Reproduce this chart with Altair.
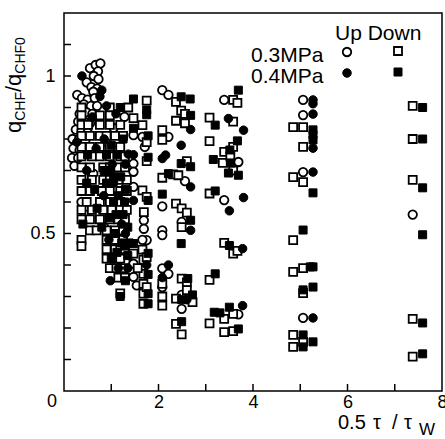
import altair as alt
import pandas as pd

FONT = "Liberation Sans"

# ---- Up, 0.3 MPa (open circles) ----
up03_x = [0.55, 0.67, 0.77, 0.72, 0.63, 0.73, 0.48, 0.58, 0.70, 0.62, 0.28, 0.38, 0.50, 0.65,
          0.42, 0.57, 0.70, 0.33, 0.47, 0.60, 0.73, 0.30, 0.43, 0.55, 0.25, 0.37, 0.50, 0.18,
          0.32, 0.45, 0.20, 0.33, 0.17, 0.30, 0.22, 0.37, 0.45, 0.90, 1.05, 1.28, 0.62, 0.85,
          1.30, 1.15,
          1.47, 1.66, 1.71, 1.47, 1.47, 1.47, 1.69, 1.69, 1.75, 1.47, 1.47, 1.54, 1.66,
          2.08, 2.21, 2.21, 2.56, 2.08, 2.49, 2.08, 2.08, 2.08, 2.21, 2.08, 2.49, 2.49,
          3.39, 3.69, 3.39, 3.69,
          5.06, 5.06, 5.06, 5.06,
          7.38]
up03_y = [1.025, 1.035, 1.04, 1.015, 1.00, 0.99, 0.98, 0.965, 0.96, 0.95, 0.94, 0.93, 0.925, 0.93,
          0.91, 0.905, 0.905, 0.88, 0.885, 0.88, 0.875, 0.855, 0.855, 0.85, 0.83, 0.825, 0.82, 0.80,
          0.80, 0.795, 0.77, 0.765, 0.74, 0.74, 0.715, 0.60, 0.56, 0.79, 0.835, 0.87, 0.69, 0.52,
          0.41, 0.46,
          0.812, 0.807, 0.775, 0.722, 0.696, 0.648, 0.542, 0.515, 0.479, 0.404, 0.362, 0.335, 0.48,
          0.955, 0.94, 0.807, 0.666, 0.586, 0.537, 0.51, 0.495, 0.389, 0.372, 0.33, 0.305, 0.261,
          0.924, 0.727, 0.606, 0.243,
          0.924, 0.876, 0.695, 0.232,
          0.56]

# ---- Up, 0.4 MPa (filled circles) ----
up04_x = [0.38, 0.80, 0.76, 0.90, 0.60, 0.27, 1.02, 1.30, 1.05, 0.84, 1.22, 1.30, 0.98, 1.35,
          0.85, 0.48, 0.68, 1.10, 0.95, 1.15,
          1.36, 1.47, 1.47, 1.75,
          2.68, 2.48, 2.08, 2.15, 2.68, 2.68, 2.21, 2.08, 2.60,
          3.48, 3.80, 3.50, 3.80, 3.78, 3.78,
          5.27, 5.27, 5.27, 5.27, 5.27, 5.27]
up04_y = [1.00, 0.955, 0.935, 0.905, 0.87, 0.79, 0.72, 0.72, 0.66, 0.62, 0.53, 0.50, 0.35, 0.39,
          0.80, 0.70, 0.77, 0.88, 0.48, 0.39,
          0.752, 0.75, 0.605, 0.40,
          0.83, 0.78, 0.738, 0.749, 0.648, 0.51, 0.40, 0.36, 0.29,
          0.865, 0.828, 0.572, 0.614, 0.452, 0.271,
          0.924, 0.912, 0.879, 0.771, 0.695, 0.232]

# ---- Down, 0.3 MPa (open squares) ----
dn03_x = [0.37, 0.97, 1.36,
          0.37, 0.76, 0.97,
          0.37, 0.51, 0.76, 0.97, 1.19,
          0.37, 0.55, 0.76, 0.90, 1.08, 1.25,
          0.37, 0.55, 0.76, 0.97, 1.19,
          0.37, 0.59, 0.76, 0.97, 1.19, 1.29,
          0.37, 0.55, 0.83, 0.97, 1.15, 1.29,
          0.37, 0.59, 0.83, 0.97, 1.15, 1.33,
          0.37, 0.55, 0.80, 0.97, 1.19, 1.33,
          0.48, 0.76, 0.97, 1.19,
          0.37, 0.59, 0.83, 1.01, 1.19, 1.33,
          0.37, 0.55, 0.76, 0.97, 1.15, 1.29,
          0.55, 0.69, 0.90, 1.08, 1.25,
          0.37, 0.90, 1.08, 1.25,
          0.37,
          0.90, 1.08, 1.19, 1.29,
          0.90, 1.08, 1.19,
          0.97, 1.11, 1.25,
          1.15, 1.29,
          1.19,
          1.75, 1.47, 1.66, 1.75, 1.75, 1.66, 1.75, 1.69, 1.47, 1.66, 1.68, 1.75, 1.68, 1.68,
          1.68, 1.68, 1.75, 1.56,
          2.37, 2.48, 2.56, 2.37, 2.56, 2.08, 2.08, 2.60, 2.08, 2.31, 2.42, 2.37, 2.49, 2.60,
          2.49, 2.08, 2.08, 2.08, 2.49, 2.60, 2.37, 2.72, 2.37, 2.49, 2.60,
          3.58, 3.67, 3.08, 3.58, 3.08, 3.39, 3.58, 3.36, 3.52, 3.58, 3.08, 3.39, 3.58, 3.67,
          3.08, 3.08, 3.39, 3.58, 3.39, 3.58,
          4.85, 5.06, 5.06, 4.85, 5.06, 4.85, 4.85, 5.06, 5.06, 4.85, 5.06, 4.85,
          7.38, 7.38, 7.38, 7.38, 7.38]
dn03_y = [0.90, 0.90, 0.90,
          0.875, 0.875, 0.875,
          0.845, 0.845, 0.845, 0.845, 0.845,
          0.81, 0.81, 0.81, 0.81, 0.81, 0.81,
          0.775, 0.775, 0.775, 0.775, 0.775,
          0.745, 0.745, 0.745, 0.745, 0.745, 0.745,
          0.71, 0.71, 0.71, 0.71, 0.71, 0.71,
          0.67, 0.67, 0.67, 0.67, 0.67, 0.67,
          0.635, 0.635, 0.635, 0.635, 0.635, 0.635,
          0.60, 0.60, 0.60, 0.60,
          0.575, 0.575, 0.575, 0.575, 0.575, 0.575,
          0.545, 0.545, 0.545, 0.545, 0.545, 0.545,
          0.51, 0.51, 0.51, 0.51, 0.51,
          0.48, 0.48, 0.48, 0.48,
          0.46,
          0.45, 0.45, 0.45, 0.45,
          0.42, 0.42, 0.42,
          0.39, 0.39, 0.39,
          0.36, 0.36,
          0.31,
          0.922, 0.866, 0.844, 0.79, 0.73, 0.637, 0.616, 0.568, 0.436, 0.449, 0.417, 0.425, 0.372, 0.34,
          0.309, 0.277, 0.33, 0.39,
          0.918, 0.89, 0.88, 0.858, 0.85, 0.828, 0.797, 0.73, 0.677, 0.688, 0.685, 0.595, 0.58, 0.566,
          0.52, 0.34, 0.30, 0.271, 0.357, 0.345, 0.293, 0.282, 0.213, 0.18, 0.32,
          0.924, 0.915, 0.868, 0.855, 0.793, 0.759, 0.775, 0.724, 0.745, 0.70, 0.627, 0.47, 0.436, 0.445,
          0.353, 0.215, 0.229, 0.245, 0.187, 0.19,
          0.838, 0.838, 0.775, 0.679, 0.663, 0.479, 0.378, 0.39, 0.311, 0.178, 0.156, 0.140,
          0.905, 0.80, 0.67, 0.229, 0.109]

# ---- Down, 0.4 MPa (filled squares) ----
dn04_x = [1.19, 0.98, 0.90, 1.15, 1.25, 0.80, 1.08, 0.40, 1.30, 1.35, 1.19, 0.90, 1.12, 1.25,
          0.70, 1.30, 1.05, 1.00,
          1.05, 1.20, 1.28, 1.10, 0.95, 1.22, 1.12, 1.35, 0.85, 1.00, 0.65, 0.48, 0.50, 1.30, 1.38,
          1.47, 1.75, 1.75, 1.47, 1.78, 1.78, 1.78, 1.47, 1.78, 1.78, 1.78, 1.78,
          2.48, 2.67, 2.68, 2.48, 2.68, 2.21, 2.08, 2.68, 2.48, 2.62, 2.49, 2.72, 2.49,
          3.69, 3.20, 3.67, 3.51, 3.16, 3.53, 3.48, 3.69, 3.20, 3.50, 3.20, 3.18, 3.30, 3.50, 3.69,
          5.27, 5.27, 5.27, 5.27, 5.06, 5.21, 5.27, 5.06, 5.27, 5.06, 5.27, 5.06,
          7.59, 7.59, 7.59, 7.59, 7.59, 7.59]
dn04_y = [0.90, 0.70, 0.66, 0.62, 0.56, 0.52, 0.50, 0.53, 0.46, 0.43, 0.30, 0.75, 0.75, 0.80,
          0.58, 0.64, 0.60, 0.42,
          0.68, 0.68, 0.60, 0.56, 0.55, 0.47, 0.44, 0.52, 0.70, 0.78, 0.64, 0.66, 0.75, 0.35, 0.47,
          0.927, 0.892, 0.877, 0.834, 0.81, 0.742, 0.605, 0.468, 0.437, 0.277, 0.309, 0.37,
          0.934, 0.927, 0.875, 0.722, 0.712, 0.69, 0.625, 0.542, 0.468, 0.357, 0.29, 0.305, 0.22,
          0.955, 0.844, 0.794, 0.765, 0.735, 0.724, 0.692, 0.685, 0.635, 0.462, 0.372, 0.25, 0.248, 0.266, 0.197,
          0.829, 0.813, 0.797, 0.629, 0.511, 0.394, 0.394, 0.321, 0.330, 0.178, 0.156, 0.140,
          0.90, 0.80, 0.645, 0.496, 0.216, 0.118]

x_tick_values = [1, 2, 3, 4, 5, 6, 7]
x_label_values = [2, 4, 6, 8]
y_tick_values = [0.1, 0.2, 0.3, 0.4, 0.5, 0.6, 0.7, 0.8, 0.9, 1.0, 1.1]
y_label_values = [0.5, 1]

W, H = 378, 378

xaxis = alt.Axis(values=x_label_values, ticks=False, domain=False, grid=False,
                 labelFontSize=18, labelFont=FONT, labelColor="black", labelPadding=2,
                 labelFlush=False, title=None)
yaxis = alt.Axis(values=y_label_values, ticks=False, domain=False, grid=False, format="~g",
                 labelFontSize=18, labelFont=FONT, labelColor="black", labelPadding=9,
                 title=None)
xs = alt.Scale(domain=[0, 8], nice=False, zero=False)
ys = alt.Scale(domain=[0, 1.2], nice=False, zero=False)


def X():
    return alt.X("x:Q", scale=xs, axis=xaxis)


def Y():
    return alt.Y("y:Q", scale=ys, axis=yaxis)


def pts(xv, yv, shape, filled):
    df = pd.DataFrame({"x": xv, "y": yv})
    size = 64 if shape == "square" else 72
    if filled:
        m = alt.Chart(df).mark_point(shape=shape, filled=True, fill="black", stroke="black",
                                     strokeWidth=1, size=size, opacity=1)
    else:
        m = alt.Chart(df).mark_point(shape=shape, filled=True, fill="white", stroke="black",
                                     strokeWidth=1.8, size=size, opacity=1)
    return m.encode(x=X(), y=Y())


xt = alt.Chart(pd.DataFrame({"x": x_tick_values})).mark_rule(color="black", strokeWidth=1.5).encode(
    x=X(), y=alt.value(H), y2=alt.value(H - 7))
yt = alt.Chart(pd.DataFrame({"y": y_tick_values})).mark_rule(color="black", strokeWidth=1.5).encode(
    y=Y(), x=alt.value(0), x2=alt.value(7))


def txt(s, x, y, size, angle=0, align="left", baseline="alphabetic"):
    return alt.Chart(pd.DataFrame({"t": [s]})).mark_text(
        text=s, font=FONT, fontSize=size, color="black", align=align,
        baseline=baseline, angle=angle).encode(x=alt.value(x), y=alt.value(y))


texts = [
    # origin label
    txt("0", -12, H + 2, 18, 0, "center", "top"),
    # y-axis title q_CHF / q_CHF0 (rotated)
    txt("q", -43, 120, 22, 270),
    txt("CHF", -39, 107.8, 14, 270),
    txt("/q", -43, 79, 22, 270),
    txt("CHF0", -39, 60.7, 14, 270),
    # x-axis title 0.5 τ / τ_W
    txt("0.5", 274, 416, 20),
    txt("τ", 309, 416, 20),
    txt("/", 328, 416, 20),
    txt("τ", 340, 416, 20),
    txt("W", 355, 422, 17),
    # legend
    txt("Up Down", 271, 27, 21),
    txt("0.3MPa", 187, 49, 21),
    txt("0.4MPa", 187, 70, 21),
]


def legpt(shape, filled, x, y):
    base = alt.Chart(pd.DataFrame({"t": [0]}))
    size = 72 if shape == "circle" else 64
    if filled:
        m = base.mark_point(shape=shape, filled=True, fill="black", stroke="black", strokeWidth=1,
                            size=size, opacity=1)
    else:
        m = base.mark_point(shape=shape, filled=True, fill="white", stroke="black", strokeWidth=1.8,
                            size=size, opacity=1)
    return m.encode(x=alt.value(x), y=alt.value(y))


legend = [
    legpt("circle", False, 283, 39),
    legpt("square", False, 334, 38),
    legpt("circle", True, 283, 60),
    legpt("square", True, 334, 59),
]

chart = alt.layer(
    xt, yt,
    pts(up03_x, up03_y, "circle", False),
    pts(dn03_x, dn03_y, "square", False),
    pts(up04_x, up04_y, "circle", True),
    pts(dn04_x, dn04_y, "square", True),
    *texts, *legend,
).properties(
    width=W, height=H,
    autosize=alt.AutoSizeParams(type="none"),
    padding={"left": 64, "top": 13, "right": 3, "bottom": 48},
    background="white",
).configure_view(stroke="black", strokeWidth=1.5)

chart.save("out.html", embed_options={"renderer": "svg", "actions": False})
